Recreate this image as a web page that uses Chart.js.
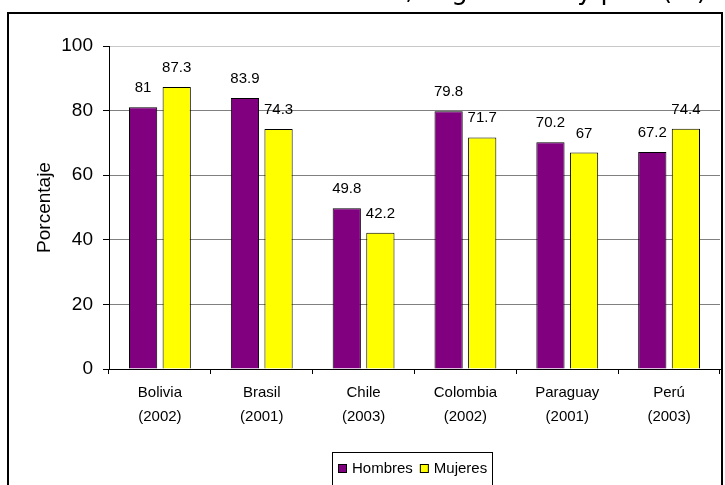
<!DOCTYPE html>
<html>
<head>
<meta charset="utf-8">
<script src="https://cdn.jsdelivr.net/npm/chart.js@4.4.1/dist/chart.umd.min.js"></script>
<style>
  html, body { margin: 0; padding: 0; background: #fff; }
  #wrap { width: 725px; height: 485px; }
</style>
</head>
<body>
<div id="wrap"><canvas id="chart" width="725" height="485"></canvas></div>
<script>
// datos
const titulo = 'Tasa neta de asistencia escolar y de actividad en zonas urbanas, según sexo y país (%)';
const paises = [['Bolivia', '(2002)'], ['Brasil', '(2001)'], ['Chile', '(2003)'],
                ['Colombia', '(2002)'], ['Paraguay', '(2001)'], ['Perú', '(2003)']];
const hombres = [81, 83.9, 49.8, 79.8, 70.2, 67.2];
const mujeres = [87.3, 74.3, 42.2, 71.7, 67, 74.4];
const ticksY = [0, 20, 40, 60, 80, 100];

const fuente = 'Arial, "Liberation Sans", sans-serif';

// marco exterior y titulo (cortado arriba)
const marco = {
    id: 'marco',
    beforeDraw(chart) {
        const ctx = chart.ctx;
        ctx.save();
        ctx.fillStyle = '#fff';
        ctx.fillRect(0, 0, chart.width, chart.height);
        ctx.strokeStyle = '#000';
        ctx.lineWidth = 2;
        ctx.strokeRect(8, 13, 714, 490);
        ctx.fillStyle = '#000';
        ctx.font = '26px "DejaVu Sans", sans-serif';
        ctx.textAlign = 'right';
        ctx.textBaseline = 'alphabetic';
        ctx.fillText(titulo, 707, -1);
        ctx.restore();
    }
};

// valores encima de las barras
const etiquetas = {
    id: 'etiquetas',
    afterDatasetsDraw(chart) {
        const ctx = chart.ctx;
        ctx.save();
        ctx.fillStyle = '#000';
        ctx.font = '15px ' + fuente;
        ctx.textAlign = 'center';
        ctx.textBaseline = 'alphabetic';
        chart.data.datasets.forEach((ds, i) => {
            chart.getDatasetMeta(i).data.forEach((bar, j) => {
                ctx.fillText(String(ds.data[j]), bar.x, bar.y - 15);
            });
        });
        ctx.restore();
    }
};

// leyenda con recuadro, como en Excel
const leyenda = {
    id: 'leyenda',
    afterDraw(chart) {
        const ctx = chart.ctx;
        ctx.save();
        ctx.strokeStyle = '#000';
        ctx.lineWidth = 1;
        ctx.strokeRect(332.5, 452.5, 160, 40);
        ctx.font = '15px ' + fuente;
        ctx.textBaseline = 'alphabetic';
        ctx.textAlign = 'left';
        let x = 338;
        chart.data.datasets.forEach(ds => {
            ctx.fillStyle = ds.backgroundColor;
            ctx.fillRect(x, 464, 9, 9);
            ctx.strokeRect(x + 0.5, 464.5, 8, 8);
            ctx.fillStyle = '#000';
            ctx.fillText(ds.label, x + 14, 473);
            x += 14 + ctx.measureText(ds.label).width + 7;
        });
        ctx.restore();
    }
};

new Chart(document.getElementById('chart'), {
    type: 'bar',
    data: {
        labels: paises,
        datasets: [{
            label: 'Hombres',
            data: hombres,
            backgroundColor: '#800080',
            borderColor: '#000',
            borderWidth: 1
        }, {
            label: 'Mujeres',
            data: mujeres,
            backgroundColor: '#ffff00',
            borderColor: '#000',
            borderWidth: 1
        }]
    },
    options: {
        responsive: false,
        animation: false,
        categoryPercentage: 0.66,
        barPercentage: 0.84,
        layout: { padding: { top: 46, right: 5, left: 0, bottom: 0 } },
        plugins: {
            legend: { display: false },
            tooltip: { enabled: false }
        },
        scales: {
            x: {
                ticks: {
                    color: '#000',
                    font: { family: fuente, size: 15, lineHeight: 1.6 },
                    padding: 7,
                    maxRotation: 0,
                    autoSkip: false
                },
                grid: { drawOnChartArea: false, tickColor: '#000', tickLength: 5, offset: true },
                border: { color: '#000' },
                afterFit(s) { s.height = 116; }
            },
            y: {
                min: 0,
                max: 100,
                afterBuildTicks(s) { s.ticks = ticksY.map(v => ({ value: v })); },
                ticks: {
                    color: '#000',
                    font: { family: fuente, size: 19 },
                    padding: 10
                },
                grid: {
                    color: c => c.tick.value === 100 ? '#c8c8c8' : (c.tick.value === 0 ? '#000' : '#808080'),
                    tickColor: '#000',
                    tickLength: 6
                },
                border: { color: '#000' },
                title: {
                    display: true,
                    text: 'Porcentaje',
                    color: '#000',
                    font: { family: fuente, size: 19 },
                    padding: { top: 33, bottom: 0 }
                },
                afterFit(s) { s.width = 109; }
            }
        }
    },
    plugins: [marco, etiquetas, leyenda]
});
</script>
</body>
</html>
